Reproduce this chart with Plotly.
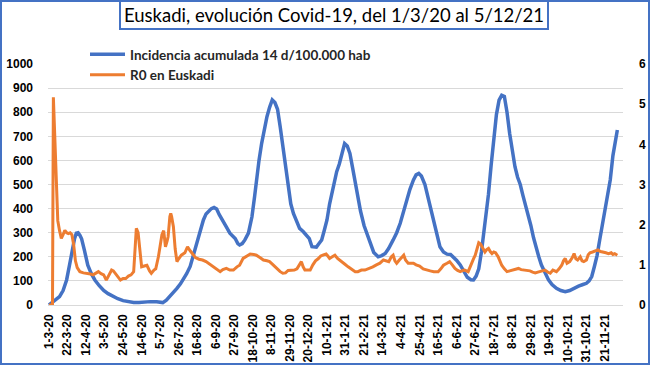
import pandas as pd
import plotly.graph_objects as go

# ---------------- data ----------------
start_date = "2020-03-01"

# Incidencia acumulada 14 d/100.000 hab  (day offset from 1-3-20, value)
inc_day = [0, 4, 8, 12, 16, 20, 23, 26, 29, 31, 33, 35, 37, 40, 44, 48, 52, 57, 62, 67,
           73, 78, 84, 90, 96, 102, 108, 115, 122, 129, 133, 137, 141, 145, 149, 152, 156,
           160, 164, 167, 171, 175, 178, 181, 184, 187, 190, 193, 196, 200, 205, 208, 211,
           214, 216, 219, 222, 226, 230, 233, 235, 238, 241, 244, 247, 250, 253, 256, 259,
           262, 265, 268, 271, 274, 277, 280, 284, 288, 292, 295, 298, 303, 306, 309, 312,
           315, 318, 321, 324, 326, 329, 332, 335, 338, 341, 344, 347, 350, 353, 357, 360,
           364, 368, 373, 377, 381, 385, 390, 394, 398, 402, 405, 409, 413, 416, 419, 422,
           426, 430, 434, 437, 440, 443, 447, 451, 455, 458, 462, 466, 470, 474, 478, 481,
           484, 487, 490, 493, 496, 498, 501, 504, 507, 510, 513, 516, 519, 522, 525, 528,
           531, 534, 537, 540, 543, 546, 549, 552, 555, 558, 562, 566, 570, 575, 580, 585,
           590, 595, 600, 605, 609, 612, 615, 618, 621, 624, 627, 630, 633, 636, 639, 642, 644]
inc_val = [0, 12, 25, 35, 60, 104, 160, 220, 275, 298, 300, 290, 275, 230, 165, 130, 104, 80, 60, 47,
           35, 26, 18, 13, 10, 10, 13, 14, 13, 10, 20, 35, 52, 69, 88, 104, 130,
           160, 215, 256, 305, 353, 378, 390, 400, 405, 398, 375, 358, 330, 298, 285, 276,
           255, 249, 255, 270, 298, 366, 450, 519, 600, 671, 730, 781, 820, 851, 840, 812,
           740, 660, 560, 477, 420, 380, 350, 318, 305, 290, 275, 242, 240, 255, 270, 310,
           353, 420, 470, 530, 553, 585, 630, 670, 660, 629, 570, 505, 440, 390, 330, 298,
           250, 218, 200, 205, 214, 235, 270, 300, 339, 395, 436, 480, 519, 540, 546, 535,
           500, 440, 375, 325, 280, 242, 220, 211, 210, 200, 185, 166, 140, 115, 105, 104,
           120, 150, 220, 310, 400, 460, 580, 700, 790, 850, 870, 865, 800, 712, 630, 574,
           530, 500, 455, 415, 370, 330, 280, 235, 200, 166, 135, 104, 85, 69, 60, 55,
           60, 70, 78, 85, 90, 100, 118, 160, 205, 270, 330, 390, 450, 520, 620, 690, 726]

# R0 en Euskadi (day offset from 1-3-20, value on the right axis)
r0_day = [0, 4, 5, 6, 7, 8, 9, 10, 12, 14, 16, 18, 20, 22, 24, 26, 28, 30, 32, 35, 39, 43, 47,
          50, 53, 56, 59, 62, 65, 68, 71, 73, 75, 78, 81, 84, 87, 90, 93, 96, 98, 99, 101, 103,
          105, 108, 111, 114, 116, 119, 121, 124, 126, 128, 130, 132, 134, 135, 137, 138, 139,
          141, 143, 145, 147, 150, 154, 157, 160, 163, 166, 170, 174, 178, 182, 186, 190, 194,
          197, 201, 205, 209, 213, 216, 220, 224, 228, 232, 235, 239, 243, 247, 250, 254, 258,
          262, 265, 268, 271, 274, 278, 281, 284, 286, 288, 290, 293, 296, 299, 302, 305, 308,
          311, 314, 316, 318, 321, 324, 327, 331, 335, 339, 343, 347, 350, 354, 358, 362, 367,
          371, 375, 379, 382, 385, 388, 390, 392, 394, 397, 400, 402, 404, 407, 410, 413, 416,
          420, 424, 428, 432, 436, 441, 444, 447, 451, 454, 457, 460, 463, 466, 469, 471, 475,
          477, 479, 481, 483, 485, 487, 489, 491, 494, 496, 498, 500, 502, 504, 506, 509, 511,
          513, 516, 519, 522, 526, 529, 532, 535, 538, 542, 545, 548, 551, 554, 557, 560, 562,
          565, 568, 571, 573, 575, 578, 581, 583, 585, 587, 590, 593, 595, 597, 599, 602, 604,
          606, 609, 611, 613, 616, 619, 622, 625, 628, 631, 634, 637, 639, 641, 644]
r0_val = [0, 0, 5.17, 4.5, 3.8, 3.0, 2.4, 2.1, 1.85, 1.66, 1.75, 1.86, 1.80, 1.78, 1.80, 1.75,
          1.50, 1.10, 0.93, 0.83, 0.80, 0.79, 0.77, 0.75, 0.78, 0.83, 0.78, 0.75, 0.62, 0.75,
          0.87, 0.85, 0.79, 0.70, 0.62, 0.66, 0.66, 0.72, 0.75, 0.83, 1.40, 1.91, 1.80, 1.40,
          0.95, 0.97, 0.99, 0.85, 0.79, 0.87, 0.90, 1.20, 1.45, 1.75, 1.85, 1.45, 1.60, 1.70,
          2.20, 2.28, 2.20, 1.95, 1.40, 1.08, 1.15, 1.24, 1.30, 1.45, 1.35, 1.25, 1.18, 1.14,
          1.12, 1.08, 1.02, 0.95, 0.88, 0.83, 0.88, 0.91, 0.87, 0.87, 0.95, 0.99, 1.16, 1.22,
          1.27, 1.26, 1.24, 1.18, 1.12, 1.10, 1.08, 1.00, 0.91, 0.83, 0.79, 0.80, 0.86, 0.87,
          0.87, 0.90, 1.00, 1.08, 0.95, 0.87, 0.87, 0.87, 1.00, 1.10, 1.15, 1.22, 1.25, 1.27,
          1.22, 1.16, 1.20, 1.24, 1.16, 1.08, 1.02, 0.95, 0.88, 0.83, 0.83, 0.87, 0.87, 0.90,
          0.95, 1.00, 1.04, 1.12, 1.10, 1.08, 1.20, 1.24, 1.10, 1.04, 1.12, 1.18, 1.24, 1.12,
          1.04, 1.04, 1.04, 1.00, 0.97, 0.90, 0.87, 0.85, 0.83, 0.83, 0.90, 0.99, 1.04, 1.08,
          1.00, 0.91, 0.86, 0.83, 0.86, 0.87, 0.83, 0.95, 1.08, 1.15, 1.24, 1.40, 1.55, 1.52,
          1.45, 1.32, 1.38, 1.41, 1.33, 1.28, 1.32, 1.30, 1.20, 1.08, 0.99, 0.90, 0.83, 0.85,
          0.87, 0.90, 0.91, 0.88, 0.87, 0.86, 0.85, 0.82, 0.80, 0.82, 0.84, 0.86, 0.87, 0.82,
          0.79, 0.87, 0.85, 0.83, 0.90, 0.99, 1.10, 1.16, 1.04, 1.08, 1.18, 1.28, 1.15, 1.12,
          1.20, 1.10, 1.08, 1.12, 1.25, 1.30, 1.32, 1.35, 1.37, 1.33, 1.32, 1.30, 1.28, 1.30,
          1.26, 1.28, 1.24]

tick_labels = ["1-3-20", "22-3-20", "12-4-20", "3-5-20", "24-5-20", "14-6-20", "5-7-20",
               "26-7-20", "16-8-20", "6-9-20", "27-9-20", "18-10-20", "8-11-20", "29-11-20",
               "20-12-20", "10-1-21", "31-1-21", "21-2-21", "14-3-21", "4-4-21", "25-4-21",
               "16-5-21", "6-6-21", "27-6-21", "18-7-21", "8-8-21", "29-8-21", "19-9-21",
               "10-10-21", "31-10-21", "21-11-21"]

title_text = "Euskadi, evolución Covid-19, del 1/3/20 al 5/12/21"
name_inc = "Incidencia acumulada 14 d/100.000 hab"
name_r0 = "R0 en Euskadi"

# ---------------- figure ----------------
base = pd.Timestamp(start_date)
inc_x = base + pd.to_timedelta(inc_day, unit="D")
r0_x = base + pd.to_timedelta(r0_day, unit="D")
tick_vals = pd.to_datetime(tick_labels, format="%d-%m-%y")

BLUE = "#4472C4"
ORANGE = "#ED7D31"
W, H = 650, 366
ML, MR, MT, MB = 48, 27, 64, 61
PW, PH = W - ML - MR, H - MT - MB


def px_x(p):
    return (p - ML) / PW


def px_y(p):
    return (H - MB - p) / PH


fig = go.Figure()
fig.add_trace(go.Scatter(x=inc_x, y=inc_val, name=name_inc, mode="lines",
                         line=dict(color=BLUE, width=3.5)))
fig.add_trace(go.Scatter(x=r0_x, y=r0_val, name=name_r0, mode="lines", yaxis="y2",
                         line=dict(color=ORANGE, width=3)))

tick_font = dict(family="Liberation Sans, Arial, sans-serif", size=12, color="#000000",
                 weight="bold")

fig.update_layout(
    width=W, height=H, autosize=False,
    margin=dict(l=ML, r=MR, t=MT, b=MB, pad=0, autoexpand=False),
    paper_bgcolor="white", plot_bgcolor="white",
    showlegend=True,
    legend=dict(x=px_x(85), y=px_y(39), xanchor="left", yanchor="top",
                bgcolor="rgba(0,0,0,0)", borderwidth=0, tracegroupgap=0,
                itemwidth=35,
                font=dict(family="Lato, sans-serif", size=13.5, color="#262626",
                          weight="bold")),
    xaxis=dict(type="date", automargin=False,
               range=[base - pd.Timedelta(hours=26), base + pd.Timedelta(days=650, hours=10)],
               tickmode="array", tickvals=tick_vals, ticktext=tick_labels,
               tickangle=-90, tickfont=tick_font, showgrid=False, zeroline=False,
               showline=False, ticks="", ticklabelstandoff=6),
    yaxis=dict(range=[0, 1000], dtick=100, tick0=0, automargin=False,
               showgrid=True, gridcolor="#d9d9d9",
               gridwidth=1, zeroline=True, zerolinecolor="#d9d9d9", zerolinewidth=1,
               showline=False, ticks="", tickfont=tick_font, ticklabelstandoff=14),
    yaxis2=dict(range=[0, 6], dtick=1, tick0=0, overlaying="y", side="right",
                automargin=False,
                showgrid=False, zeroline=False, showline=False, ticks="",
                tickfont=tick_font, ticklabelstandoff=15),
    shapes=[
        dict(type="rect", xref="paper", yref="paper",
             x0=px_x(1), x1=px_x(649), y0=px_y(364), y1=px_y(1),
             line=dict(color=BLUE, width=2), fillcolor="rgba(0,0,0,0)", layer="above"),
        dict(type="rect", xref="paper", yref="paper",
             x0=px_x(120), x1=px_x(548), y0=px_y(29), y1=px_y(1),
             line=dict(color=BLUE, width=2), fillcolor="white", layer="above"),
    ],
    annotations=[
        dict(text=title_text, xref="paper", yref="paper", x=px_x(334), y=px_y(15),
             xanchor="center", yanchor="middle", showarrow=False,
             font=dict(family="Lato, sans-serif", size=18.5, color="#000000")),
    ],
)

fig.write_html("out.html", config={"displayModeBar": False},
               post_script="document.body.style.margin='0';document.body.style.overflow='hidden';")
